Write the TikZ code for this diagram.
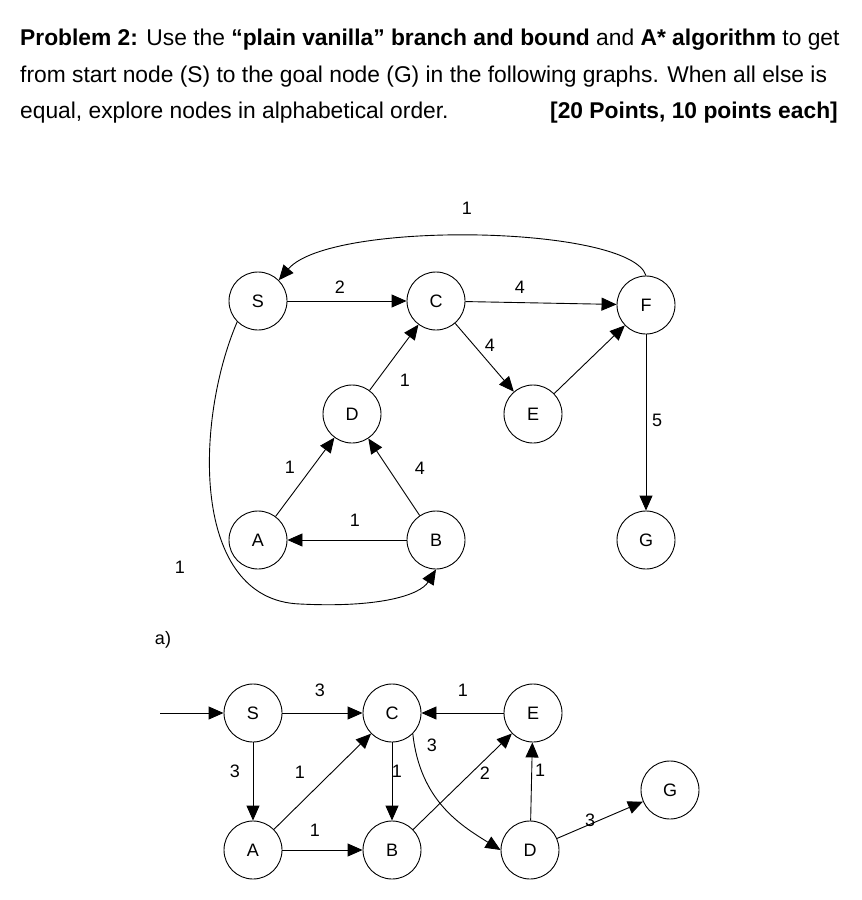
\documentclass[tikz,border=0pt]{standalone}
\usepackage{fontspec}
\setmainfont{Liberation Sans}
\usetikzlibrary{arrows.meta}
\begin{document}
\begin{tikzpicture}[x=1pt,y=-1pt,
  nd/.style={circle,draw,line width=0.9pt,minimum size=58pt,inner sep=0pt,font=\fontsize{18}{18}\selectfont},
  ed/.style={line width=0.9pt,-{Triangle[length=15pt,width=13pt]}},
  lb/.style={font=\fontsize{18}{18}\selectfont,inner sep=1pt},
  hd/.style={anchor=base west,font=\fontsize{22.8}{22.8}\selectfont,inner sep=0pt}]
\useasboundingbox (0,0) rectangle (862,900);
\node[hd] (h1) at (20,45) {\textbf{Problem 2:} Use the \textbf{“plain vanilla”} \textbf{branch and bound} and \textbf{A* algorithm} to get};
\node[hd] (h2) at (20,82) {from start node (S) to the goal node (G) in the following graphs. When all else is};
\node[hd] (h3) at (20,118) {equal, explore nodes in alphabetical order.};
\node[hd,anchor=base east] (h4) at (838,118) {\textbf{[20 Points, 10 points each]}};
% graph a
\node[nd] (S) at (258,301) {S};
\node[nd] (C) at (436,301) {C};
\node[nd] (F) at (646,305) {F};
\node[nd] (D) at (352,414) {D};
\node[nd] (E) at (533,414) {E};
\node[nd] (A) at (258,540) {A};
\node[nd] (B) at (436,540) {B};
\node[nd] (G) at (646,540) {G};
\draw[ed] (S) -- (C);
\draw[ed] (C) -- (F);
\draw[ed] (F) -- (G);
\draw[ed] (C) -- (E);
\draw[ed] (E) -- (F);
\draw[ed] (D) -- (C);
\draw[ed] (A) -- (D);
\draw[ed] (B) -- (D);
\draw[ed] (B) -- (A);
\draw[ed] (F.north) .. controls (630,225) and (330,220) .. (S.north east);
\draw[ed] (S.south west) .. controls (195,420) and (190,600) .. (300,604) .. controls (380,608) and (420,595) .. (B.south);
\node[lb] (l1) at (340,287) {2};
\node[lb] (l2) at (520,287) {4};
\node[lb] (l3) at (467,208) {1};
\node[lb] (l4) at (657,420) {5};
\node[lb] (l5) at (490,345) {4};
\node[lb] (l6) at (405,380) {1};
\node[lb] (l7) at (290,467) {1};
\node[lb] (l8) at (420,468) {4};
\node[lb] (l9) at (355,520) {1};
\node[lb] (l10) at (180,567) {1};
\node[lb] (la) at (163,640) {a)};
% graph b
\node[nd] (S2) at (253,713) {S};
\node[nd] (C2) at (392,713) {C};
\node[nd] (E2) at (533,713) {E};
\node[nd] (A2) at (253,850) {A};
\node[nd] (B2) at (392,850) {B};
\node[nd] (D2) at (530,850) {D};
\node[nd] (G2) at (670,790) {G};
\coordinate (in) at (160,713);
\draw[ed] (in) -- (S2);
\draw[ed] (S2) -- (C2);
\draw[ed] (E2) -- (C2);
\draw[ed] (S2) -- (A2);
\draw[ed] (A2) -- (C2);
\draw[ed] (C2) -- (B2);
\draw[ed] (A2) -- (B2);
\draw[ed] (B2) -- (E2);
\draw[ed] (D2) -- (E2);
\draw[ed] (D2) -- (G2);
\draw[ed] (C2.south east) .. controls (420,800) and (460,825) .. (D2.west);
\node[lb] (m1) at (320,690) {3};
\node[lb] (m2) at (463,690) {1};
\node[lb] (m3) at (235,771) {3};
\node[lb] (m4) at (300,772) {1};
\node[lb] (m5) at (397,771) {1};
\node[lb] (m6) at (432,745) {3};
\node[lb] (m7) at (485,773) {2};
\node[lb] (m8) at (540,770) {1};
\node[lb] (m9) at (315,830) {1};
\node[lb] (m10) at (590,820) {3};
\end{tikzpicture}
\end{document}
